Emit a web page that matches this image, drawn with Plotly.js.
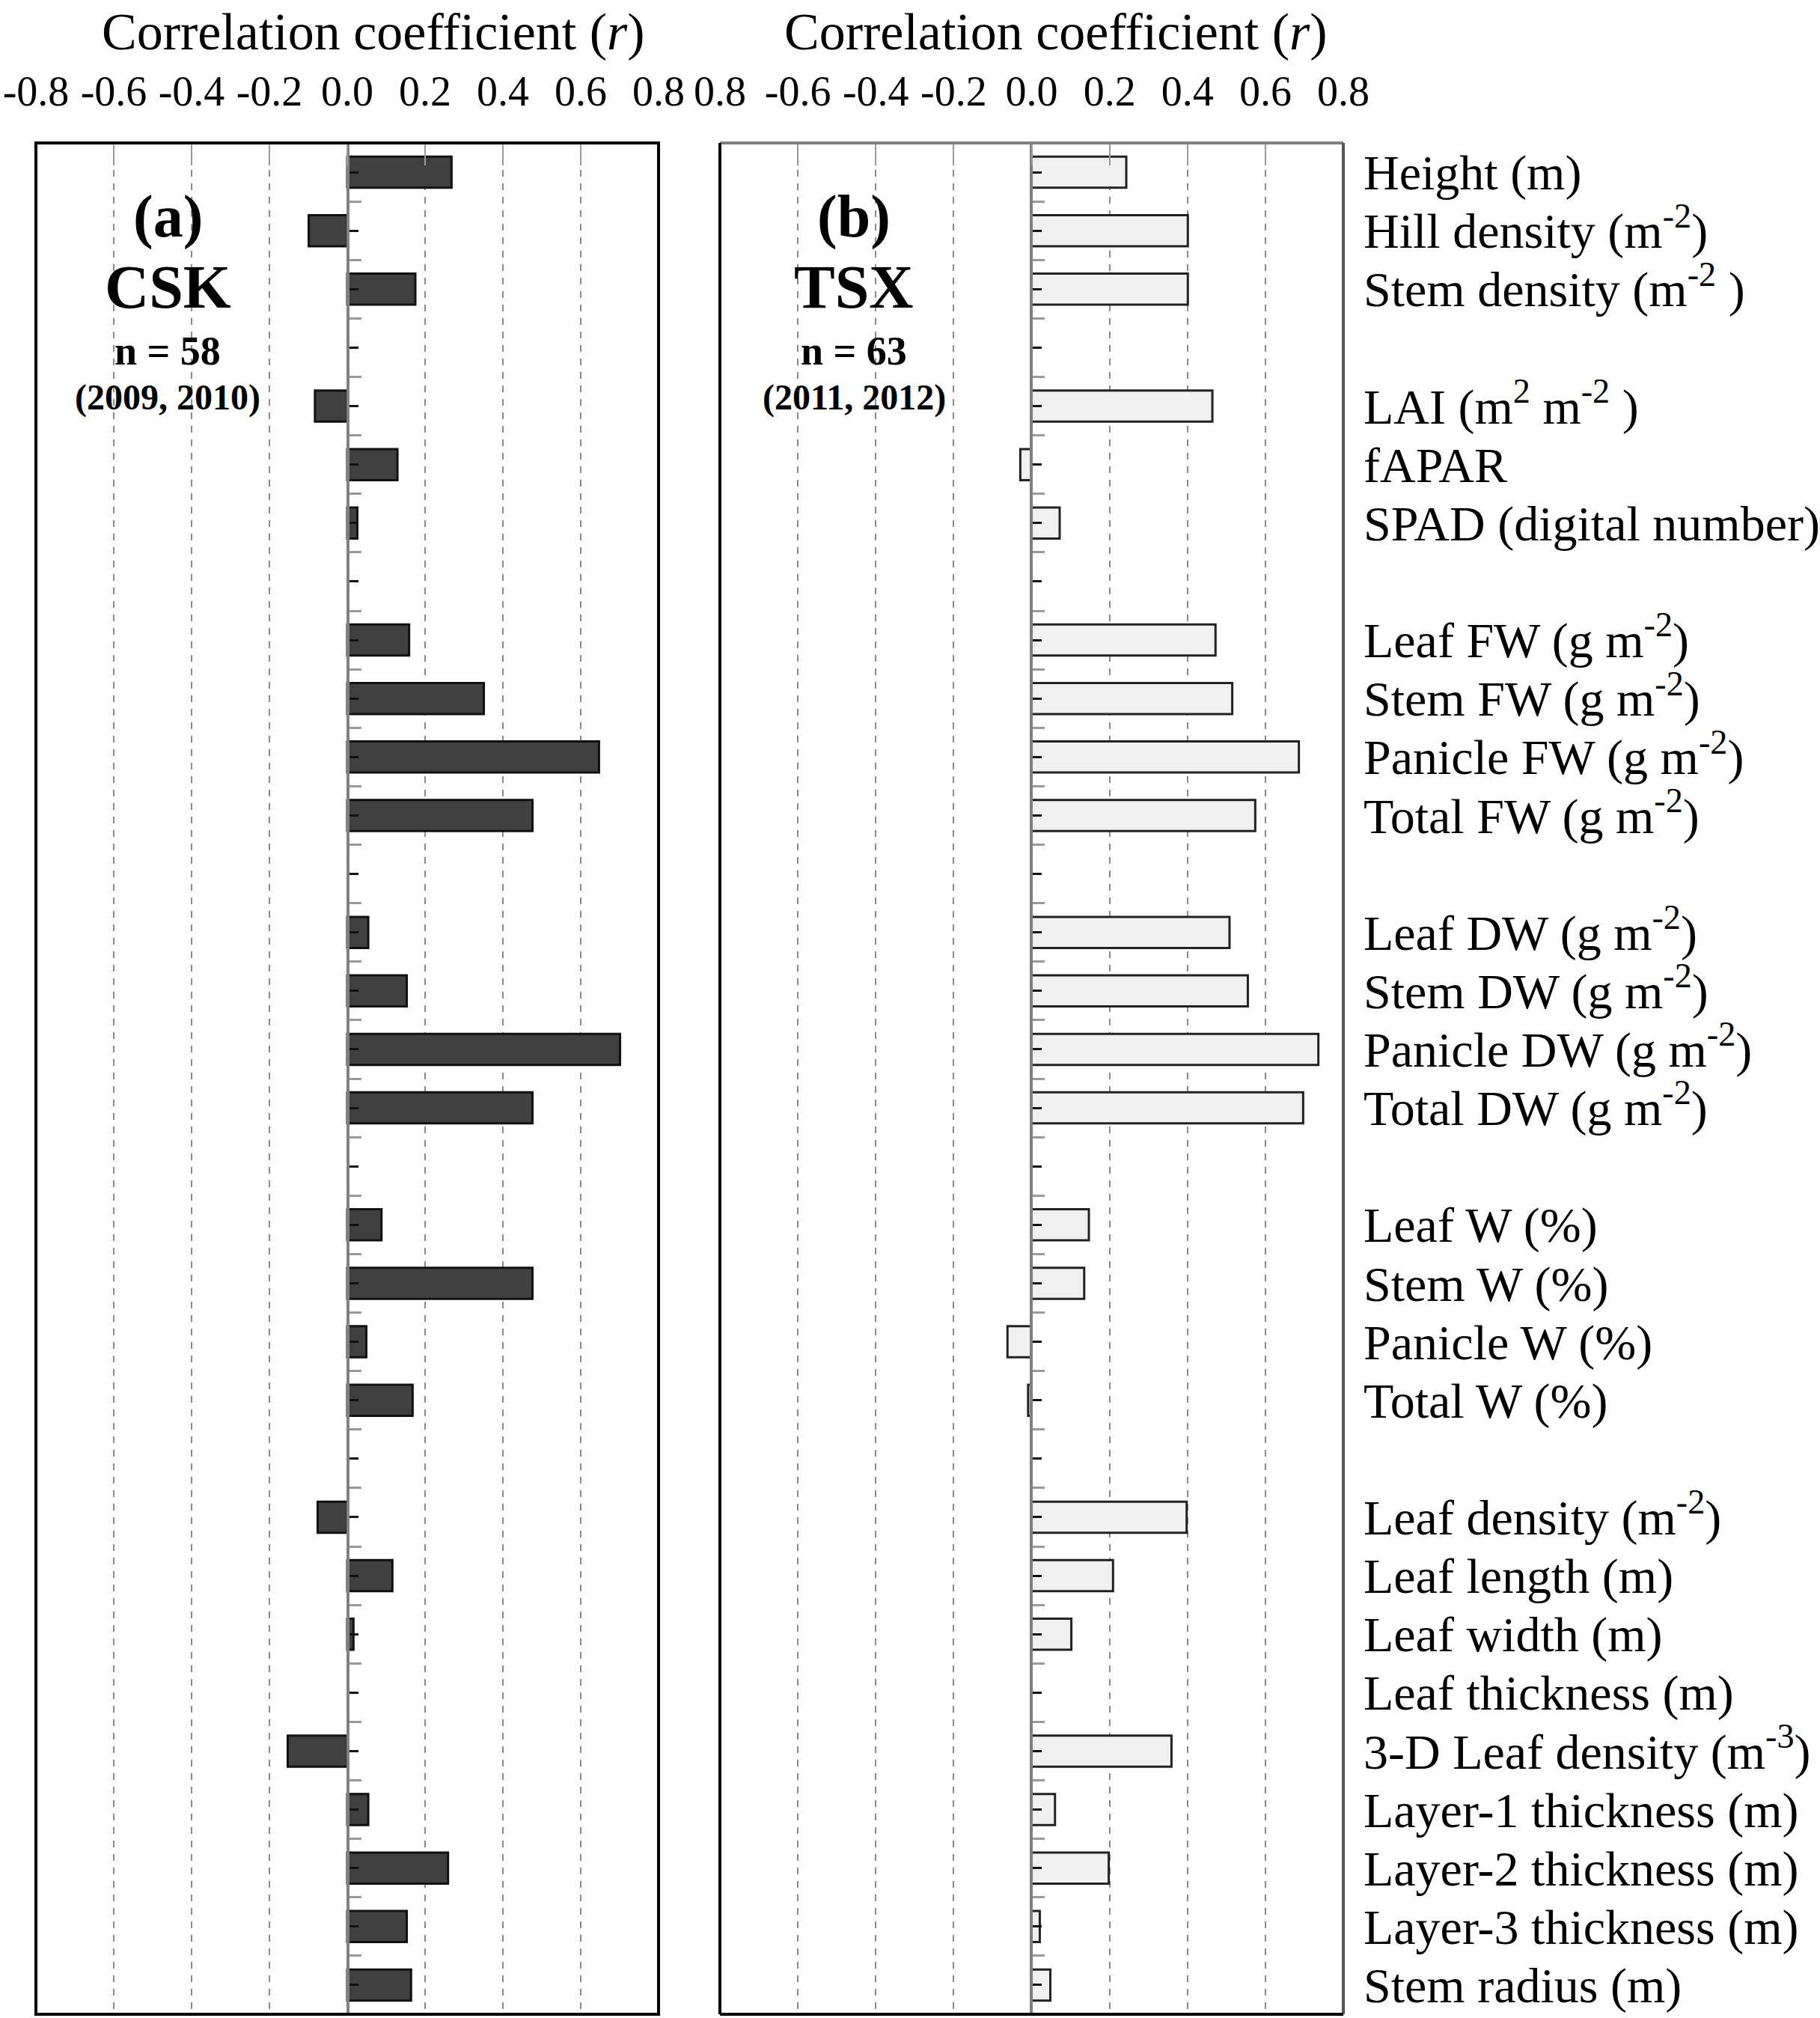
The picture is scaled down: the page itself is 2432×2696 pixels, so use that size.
<!DOCTYPE html>
<html>
<head>
<meta charset="utf-8">
<script src="https://cdn.plot.ly/plotly-3.0.1.min.js"></script>
<style>html,body{margin:0;padding:0;background:#fff;}#chart{width:2432px;height:2696px;}</style>
</head>
<body>
<div id="chart"></div>
<script>
// ---------- data ----------
const categories = [
  "Height (m)", "Hill density (m<sup>-2</sup>)", "Stem density (m<sup>-2</sup> )", "",
  "LAI (m<sup>2</sup> m<sup>-2</sup> )", "fAPAR", "SPAD (digital number)", "",
  "Leaf FW (g m<sup>-2</sup>)", "Stem FW (g m<sup>-2</sup>)", "Panicle FW (g m<sup>-2</sup>)", "Total FW (g m<sup>-2</sup>)", "",
  "Leaf DW (g m<sup>-2</sup>)", "Stem DW (g m<sup>-2</sup>)", "Panicle DW (g m<sup>-2</sup>)", "Total DW (g m<sup>-2</sup>)", "",
  "Leaf W (%)", "Stem W (%)", "Panicle W (%)", "Total W (%)", "",
  "Leaf density (m<sup>-2</sup>)", "Leaf length (m)", "Leaf width (m)", "Leaf thickness (m)",
  "3-D Leaf density (m<sup>-3</sup>)", "Layer-1 thickness (m)", "Layer-2 thickness (m)", "Layer-3 thickness (m)", "Stem radius (m)"
];
const cskR = [0.268, -0.099, 0.175, null,
  -0.083, 0.129, 0.026, null,
  0.159, 0.351, 0.647, 0.476, null,
  0.054, 0.153, 0.701, 0.476, null,
  0.088, 0.476, 0.049, 0.168, null,
  -0.076, 0.116, 0.016, null,
  -0.153, 0.054, 0.259, 0.153, 0.164];
const tsxR = [0.243, 0.401, 0.401, null,
  0.464, -0.029, 0.072, null,
  0.472, 0.515, 0.686, 0.574, null,
  0.508, 0.555, 0.736, 0.697, null,
  0.147, 0.135, -0.062, -0.009, null,
  0.398, 0.209, 0.102, null,
  0.359, 0.060, 0.198, 0.021, 0.048];
const tickVals = [-0.8, -0.6, -0.4, -0.2, 0.0, 0.2, 0.4, 0.6, 0.8];
const tickTextA = ["-0.8", "-0.6", "-0.4", "-0.2", "0.0", "0.2", "0.4", "0.6", "0.8"];
const tickTextB = ["0.8", "-0.6", "-0.4", "-0.2", "0.0", "0.2", "0.4", "0.6", "0.8"];
const panelA = {label: "(a)", sensor: "CSK", n: "n = 58", years: "(2009, 2010)"};
const panelB = {label: "(b)", sensor: "TSX", n: "n = 63", years: "(2011, 2012)"};
const axisTitle = "Correlation coefficient (<i>r</i>)";

// ---------- layout ----------
const W = 2432, H = 2696;
const FONT = "Liberation Serif, Times New Roman, serif";
const px = v => v / W;
const py = v => 1 - v / H;
const rowIdx = categories.map((_, i) => i);
const yRange = [categories.length - 0.5, -0.5];
const yDom = [py(2691), py(191)];

const traces = [
  {type: "bar", orientation: "h", x: cskR, y: rowIdx, width: 0.53,
   xaxis: "x", yaxis: "y",
   marker: {color: "#404040", line: {color: "#111111", width: 3}},
   hoverinfo: "skip", showlegend: false},
  {type: "bar", orientation: "h", x: tsxR, y: rowIdx, width: 0.53,
   xaxis: "x2", yaxis: "y2",
   marker: {color: "#f0f0f0", line: {color: "#222222", width: 3}},
   hoverinfo: "skip", showlegend: false},
  {type: "scatter", mode: "markers", x: rowIdx.map(() => 0), y: rowIdx,
   xaxis: "x2", yaxis: "y3", marker: {opacity: 0, size: 1},
   hoverinfo: "skip", showlegend: false}
];

function xAxis(domain, anchor, ticktext) {
  return {
    domain: domain, anchor: anchor, side: "top", range: [-0.8, 0.8], autorange: false,
    tickmode: "array", tickvals: tickVals, ticktext: ticktext,
    ticks: "inside", ticklen: 30, tickwidth: 2, tickcolor: "#999999",
    ticklabelstandoff: 38,
    tickfont: {family: FONT, size: 56, color: "#000"},
    showgrid: true, gridcolor: "#8a8a8a", gridwidth: 2, griddash: "dash",
    zeroline: false, showline: false, automargin: false, fixedrange: true
  };
}
function yAxis(xZeroPx) {
  return {
    domain: yDom, anchor: "free", position: px(xZeroPx), side: "left",
    range: yRange, autorange: false,
    tickmode: "linear", tick0: 0, dtick: 1,
    ticks: "inside", ticklen: 12, tickwidth: 3, tickcolor: "#111",
    minor: {tick0: 0.5, dtick: 1, ticks: "inside", ticklen: 16, tickwidth: 3, tickcolor: "#9a9a9a", showgrid: false},
    showticklabels: false, showgrid: false, zeroline: false,
    showline: true, linecolor: "#808080", linewidth: 4,
    automargin: false, fixedrange: true
  };
}

const annotations = [];
function addTitle(cx) {
  annotations.push({xref: "paper", yref: "paper", x: px(cx), y: py(42),
    xanchor: "center", yanchor: "middle", showarrow: false, text: axisTitle,
    font: {family: FONT, size: 70, color: "#000"}});
}
addTitle(499);
addTitle(1411);
function addPanelText(p, cx) {
  const items = [[p.label, 290, 80], [p.sensor, 383, 82], [p.n, 469, 54], [p.years, 531, 48]];
  items.forEach(([t, y, s]) => annotations.push({
    xref: "paper", yref: "paper", x: px(cx), y: py(y), xanchor: "center", yanchor: "middle",
    showarrow: false, text: "<b>" + t + "</b>", font: {family: FONT, size: s, color: "#000"}}));
}
addPanelText(panelA, 224);
addPanelText(panelB, 1141);

const shapes = [
  // white backing behind the panel captions (hides gridlines there)
  {type: "rect", xref: "x", yref: "paper", x0: -0.8, x1: -0.02, y0: py(580), y1: py(222),
   fillcolor: "#ffffff", line: {width: 0}, layer: "between"},
  {type: "rect", xref: "x2", yref: "paper", x0: -0.8, x1: -0.02, y0: py(580), y1: py(222),
   fillcolor: "#ffffff", line: {width: 0}, layer: "between"},
  // frame of panel (a)
  {type: "rect", xref: "x domain", yref: "y domain", x0: 0, x1: 1, y0: 0, y1: 1,
   line: {color: "#000", width: 4}, layer: "above"},
  // frame of panel (b)
  {type: "line", xref: "x2 domain", yref: "y2 domain", x0: 0, x1: 1, y0: 1, y1: 1, line: {color: "#808080", width: 4}, layer: "above"},
  {type: "line", xref: "x2 domain", yref: "y2 domain", x0: 1, x1: 1, y0: 0, y1: 1, line: {color: "#555555", width: 4}, layer: "above"},
  {type: "line", xref: "x2 domain", yref: "y2 domain", x0: 0, x1: 0, y0: 0, y1: 1, line: {color: "#000", width: 4}, layer: "above"},
  {type: "line", xref: "x2 domain", yref: "y2 domain", x0: 0, x1: 1, y0: 0, y1: 0, line: {color: "#000", width: 4}, layer: "above"}
];

const layout = {
  width: W, height: H,
  margin: {l: 0, r: 0, t: 0, b: 0, pad: 0},
  paper_bgcolor: "#fff", plot_bgcolor: "rgba(0,0,0,0)",
  font: {family: FONT, color: "#000"},
  showlegend: false, bargap: 0,
  xaxis: xAxis([px(48), px(880)], "y", tickTextA),
  xaxis2: xAxis([px(962), px(1795)], "y2", tickTextB),
  yaxis: yAxis(465),
  yaxis2: yAxis(1377.5),
  yaxis3: {
    overlaying: "y2", anchor: "free", position: px(1821), side: "right",
    range: yRange, autorange: false,
    tickmode: "array", tickvals: rowIdx, ticktext: categories,
    ticks: "", showline: false, showgrid: false, zeroline: false,
    tickfont: {family: FONT, size: 66, color: "#000"},
    automargin: false, fixedrange: true
  },
  annotations: annotations,
  shapes: shapes
};

Plotly.newPlot("chart", traces, layout, {displayModeBar: false, staticPlot: true});
</script>
</body>
</html>
